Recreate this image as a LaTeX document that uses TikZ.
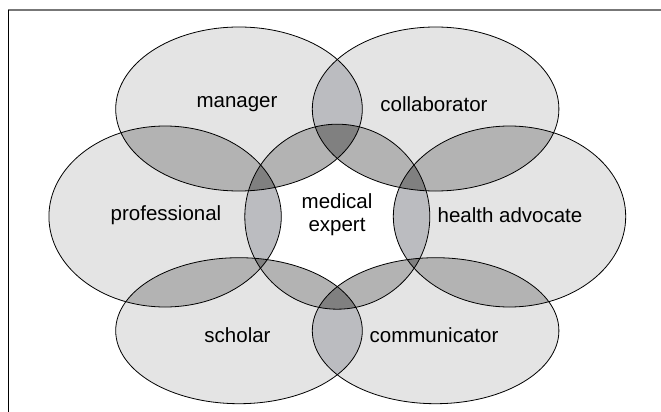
\documentclass[tikz,border=0pt]{standalone}
\usepackage{fontspec}
\setmainfont{Liberation Sans}
\begin{document}
\definecolor{single}{HTML}{E4E4E4}
\definecolor{pairA}{HTML}{B3B3B3}
\definecolor{pairB}{HTML}{BBBCC0}
\definecolor{triple}{HTML}{808080}
\definecolor{frameTop}{HTML}{777777}
% role regions
\def\pMan{(239,109) ellipse [x radius=123.3pt, y radius=82pt]}
\def\pCol{(435.6,109) ellipse [x radius=123.3pt, y radius=82pt]}
\def\pPro{(165.1,216.5) ellipse [x radius=116.2pt, y radius=90.5pt]}
\def\pHea{(509.5,216.5) ellipse [x radius=116.2pt, y radius=90.5pt]}
\def\pSch{(239,330.7) ellipse [x radius=123.3pt, y radius=73pt]}
\def\pCom{(435.6,330.7) ellipse [x radius=123.3pt, y radius=73pt]}
\def\pMed{(337.3,216.7) circle [radius=92.5pt]}
\newcommand\lens[3]{\begin{scope}\clip #1;\fill[#3] #2;\end{scope}}
\newcommand\tri[4]{\begin{scope}\clip #1;\clip #2;\fill[#4] #3;\end{scope}}
\begin{tikzpicture}[x=1pt,y=-1pt,
  outline/.style={draw=black,line width=0.8pt},
  label/.style={font=\fontsize{20.5}{23}\selectfont,inner sep=0pt,align=center}]
\useasboundingbox (0,0) rectangle (661,412);
\fill[white] (0,0) rectangle (661,412);
% frame
\draw[frameTop,line width=1.3pt] (8,10) -- (661,10);
\draw[black,line width=1pt] (8,10) -- (8,412);
% single fills
\foreach \p in {\pMan,\pCol,\pPro,\pHea,\pSch,\pCom} {\fill[single] \p;}
% overlaps between outer ellipses
\lens{\pMan}{\pPro}{pairA}
\lens{\pCol}{\pHea}{pairA}
\lens{\pPro}{\pSch}{pairA}
\lens{\pHea}{\pCom}{pairA}
\lens{\pMan}{\pCol}{pairB}
\lens{\pSch}{\pCom}{pairB}
% central circle and its overlaps
\fill[white] \pMed;
\lens{\pMed}{\pMan}{pairA}
\lens{\pMed}{\pCol}{pairA}
\lens{\pMed}{\pSch}{pairA}
\lens{\pMed}{\pCom}{pairA}
\lens{\pMed}{\pPro}{pairB}
\lens{\pMed}{\pHea}{pairB}
\tri{\pMed}{\pMan}{\pCol}{triple}
\tri{\pMed}{\pMan}{\pPro}{triple}
\tri{\pMed}{\pCol}{\pHea}{triple}
\tri{\pMed}{\pPro}{\pSch}{triple}
\tri{\pMed}{\pHea}{\pCom}{triple}
\tri{\pMed}{\pSch}{\pCom}{triple}
% outlines
\foreach \p in {\pMan,\pCol,\pPro,\pHea,\pSch,\pCom,\pMed} {\draw[outline] \p;}
% labels
\node[label] (man) at (237,104.5) {manager};
\node[label] (col) at (434,104.5) {collaborator};
\node[label] (pro) at (166,215.5) {professional};
\node[label] (hea) at (510,215.5) {health advocate};
\node[label] (sch) at (237.5,335) {scholar};
\node[label] (com) at (434,335) {communicator};
\node[label] (med) at (337,215) {medical\\expert};
\end{tikzpicture}
\end{document}
